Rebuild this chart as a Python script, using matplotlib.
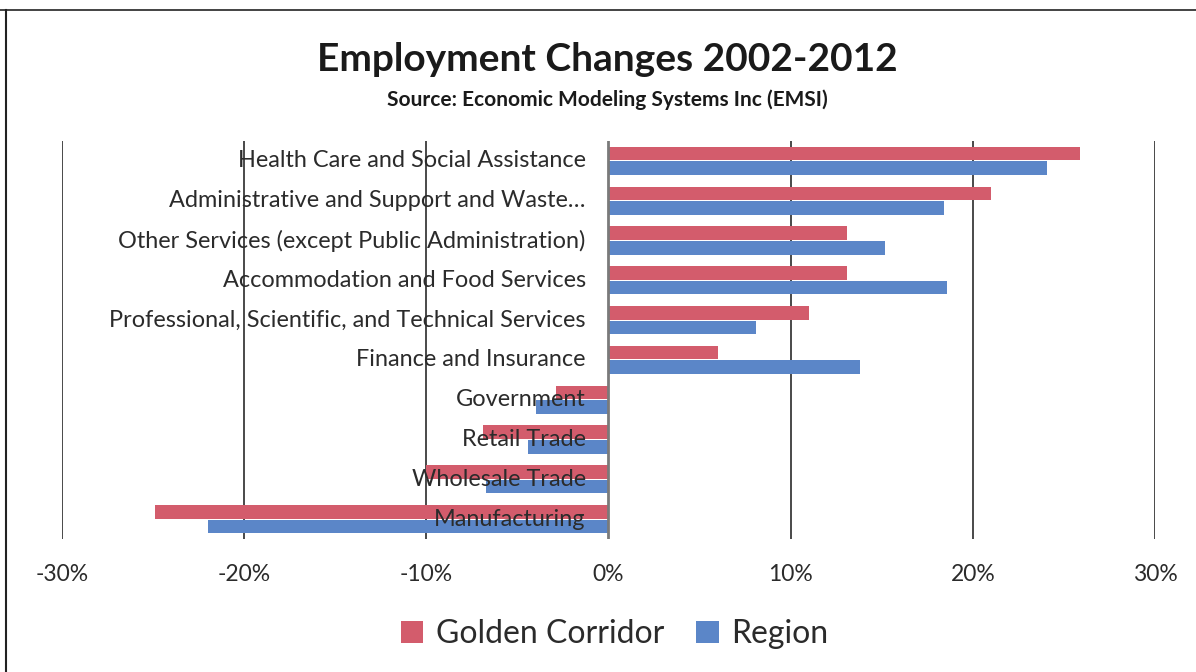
import matplotlib
matplotlib.use("Agg")
import matplotlib.pyplot as plt
from matplotlib.lines import Line2D
from matplotlib.patches import Patch
import numpy as np

plt.rcParams['font.family'] = ['Lato', 'DejaVu Sans']

# Industries, top to bottom
industries = [
    "Health Care and Social Assistance",
    "Administrative and Support and Waste\u2026",
    "Other Services (except Public Administration)",
    "Accommodation and Food Services",
    "Professional, Scientific, and Technical Services",
    "Finance and Insurance",
    "Government",
    "Retail Trade",
    "Wholesale Trade",
    "Manufacturing",
]
# Percent change in employment, 2002-2012
golden_corridor = [25.9, 21.0, 13.1, 13.1, 11.0, 6.0, -2.9, -6.9, -10.0, -24.9]
region = [24.1, 18.4, 15.2, 18.6, 8.1, 13.8, -4.0, -4.4, -6.7, -22.0]
series_names = ["Golden Corridor", "Region"]
x_ticks = [-30, -20, -10, 0, 10, 20, 30]
x_tick_labels = ["-30%", "-20%", "-10%", "0%", "10%", "20%", "30%"]

RED = "#D35C6C"
BLUE = "#5B86C8"
TEXT = "#2b2b2b"

fig = plt.figure(figsize=(11.96, 6.72), dpi=100)
ax = fig.add_axes([0.0518, 1 - 539 / 672, 0.9657 - 0.0518, (539 - 141) / 672])

n = len(industries)
pos = np.arange(n)[::-1]  # first industry at top
h = 0.34
off = 0.185

ax.barh(pos + off, golden_corridor, height=h, color=RED, zorder=3)
ax.barh(pos - off, region, height=h, color=BLUE, zorder=3)

ax.set_xlim(-30, 30)
ax.set_ylim(-0.5, n - 0.5)

# vertical gridlines
for t in x_ticks:
    if t == 0:
        ax.axvline(t, color="#7a7a7a", lw=2.0, zorder=4)
    else:
        ax.axvline(t, color="#3a3a3a", lw=1.3, zorder=1)

for s in ax.spines.values():
    s.set_visible(False)
ax.set_yticks([])
ax.set_xticks(x_ticks)
ax.set_xticklabels(x_tick_labels, fontsize=16.5, color=TEXT)
ax.tick_params(axis="x", length=0, pad=18)

# category labels sit just left of the zero line, over the bars
for y, name in zip(pos, industries):
    ax.text(-1.25, y, name, ha="right", va="center", fontsize=16.9,
            color=TEXT, zorder=5)

fig.text(0.508, 0.911, "Employment Changes 2002-2012", ha="center",
         va="center", fontsize=28, fontweight="bold", color="#1a1a1a")
fig.text(0.508, 0.851, "Source: Economic Modeling Systems Inc (EMSI)",
         ha="center", va="center", fontsize=15, fontweight="bold",
         color="#1a1a1a")

handles = [Patch(facecolor=RED, edgecolor="none"),
           Patch(facecolor=BLUE, edgecolor="none")]
fig.legend(handles, series_names, loc="center", bbox_to_anchor=(0.514, 0.056),
           ncol=2, frameon=False, fontsize=23, handlelength=0.7,
           handleheight=0.7, handletextpad=0.4, columnspacing=1.0,
           labelcolor=TEXT)

# outer chart border (left and top edges)
fig.add_artist(Line2D([6 / 1196, 6 / 1196], [0, 1 - 10 / 672],
                      transform=fig.transFigure, color="#222222", lw=1.5))
fig.add_artist(Line2D([0, 1], [1 - 10 / 672, 1 - 10 / 672],
                      transform=fig.transFigure, color="#222222", lw=1.2))

fig.savefig("out.png", dpi=100, facecolor="white")
